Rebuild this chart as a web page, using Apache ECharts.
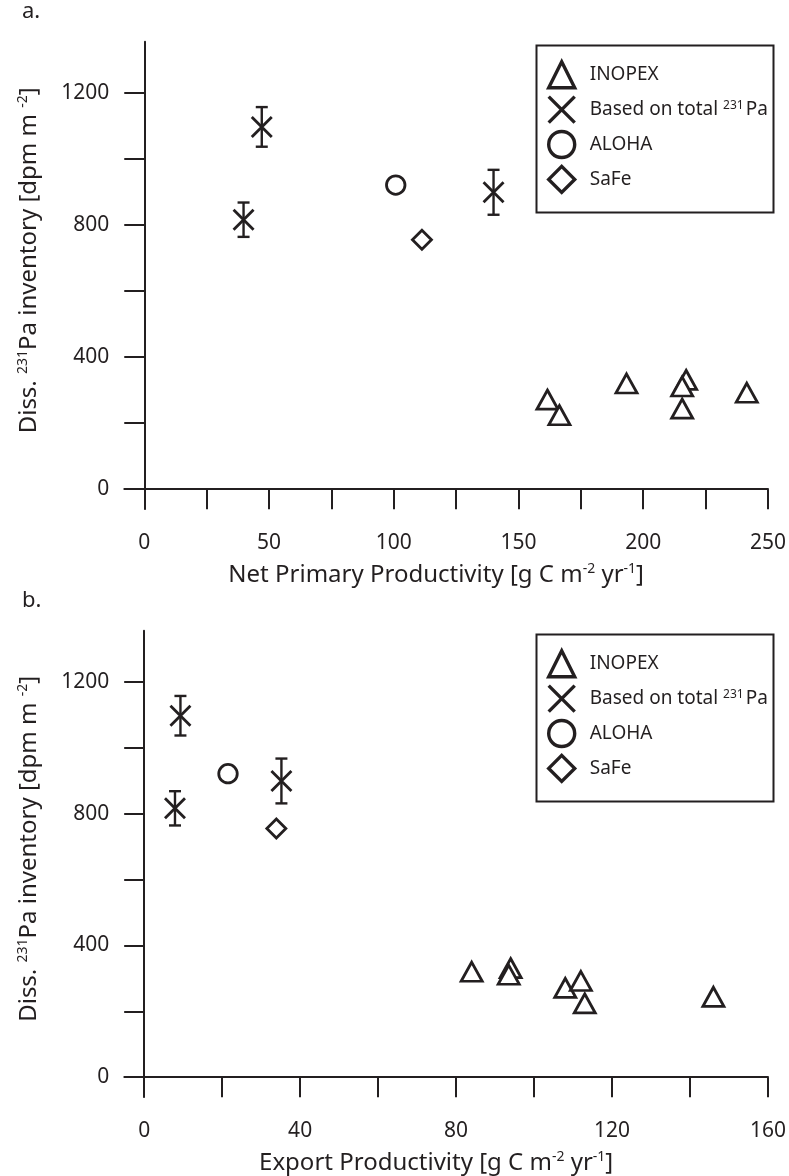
<!DOCTYPE html>
<html>
<head>
<meta charset="utf-8">
<script src="https://cdn.jsdelivr.net/npm/echarts@6/dist/echarts.min.js"></script>
<style>html,body{margin:0;padding:0;background:#fff;}#c{width:789px;height:1176px;}</style>
</head>
<body>
<div id="c"></div>
<script>
// ---- data ----
const seriesNames = ['INOPEX', 'Based on total 231Pa', 'ALOHA', 'SaFe'];
// INOPEX stations
const inopexY = [271, 224, 320, 331, 311, 244, 292];
const inopexNPP = [161.6, 166.4, 193.3, 217.2, 215.6, 215.6, 241.5];
const inopexEP = [108, 113, 84, 94, 93.5, 146, 112];
// Based on total 231Pa
const totalY = [816, 1097, 899];
const totalErr = [52, 60, 68];
const totalNPP = [39.8, 47.1, 140];
const totalEP = [7.9, 9.3, 35.2];
// ALOHA
const alohaY = [921];
const alohaNPP = [100.8];
const alohaEP = [21.5];
// SaFe
const safeY = [755];
const safeNPP = [111.3];
const safeEP = [33.9];
// ticks
const yTicks = [0, 200, 400, 600, 800, 1000, 1200];
const yLabels = [0, 400, 800, 1200];
const nppTicks = [0, 25, 50, 75, 100, 125, 150, 175, 200, 225, 250];
const nppLabels = [0, 50, 100, 150, 200, 250];
const epTicks = [0, 20, 40, 60, 80, 100, 120, 140, 160];
const epLabels = [0, 40, 80, 120, 160];

const INK = '#231f20';
const FONT = '"Noto Sans", "Open Sans", sans-serif';
const FS = 21;
const TFS = 24;
const zip = (xs, ys) => xs.map((x, i) => [x, ys[i]]);
const zip3 = (xs, ys, es) => xs.map((x, i) => [x, ys[i], es[i]]);
const X_PATH = 'path://M0,0L20,20M20,0L0,20';

const sup = { fontSize: 14, fontFamily: FONT, color: INK, padding: [0, 0, 12, 0] };
const nrm = { fontSize: TFS, fontFamily: FONT, color: INK };

function xAxisCfg(idx, min, max, ticks, labels, title) {
  return {
    type: 'value', gridIndex: idx, min: min, max: max,
    axisLine: { show: true, onZero: true, lineStyle: { color: INK, width: 2 } },
    axisTick: { show: true, length: 20, inside: false, customValues: ticks, lineStyle: { color: INK, width: 2 } },
    axisLabel: { customValues: labels, margin: 24, fontSize: FS, fontFamily: FONT, color: INK, formatter: v => String(v) },
    splitLine: { show: false },
    name: title, nameLocation: 'middle', nameGap: 53,
    nameTextStyle: { fontSize: TFS, fontFamily: FONT, color: INK, padding: [0, 20, 0, 0], rich: { n: nrm, s: sup } }
  };
}
function yAxisCfg(idx) {
  return {
    type: 'value', gridIndex: idx, min: -60, max: 1355,
    axisLine: { show: true, onZero: true, lineStyle: { color: INK, width: 2 } },
    axisTick: { show: true, length: 20, inside: false, customValues: yTicks, lineStyle: { color: INK, width: 2 } },
    axisLabel: { customValues: yLabels, margin: 15, fontSize: FS, fontFamily: FONT, color: INK, formatter: v => String(v) },
    splitLine: { show: false },
    name: '{n|Diss. }{s|231}{n|Pa inventory [dpm m }{s|-2}{n|]}',
    nameLocation: 'middle', nameRotate: 90, nameGap: 82,
    nameTextStyle: { fontSize: TFS, fontFamily: FONT, color: INK, padding: [0, 0, 0, 30], rich: { n: nrm, s: sup } }
  };
}
const markerStyle = { color: '#fff', borderColor: INK, borderWidth: 2.8, opacity: 1 };
function panelSeries(idx, inX, toX, alX, saX) {
  return [
    { name: seriesNames[0], type: 'scatter', xAxisIndex: idx, yAxisIndex: idx, symbol: 'triangle', symbolSize: [21, 19],
      itemStyle: markerStyle, data: zip(inX, inopexY), z: 3 },
    { name: seriesNames[1] + '_err', type: 'custom', xAxisIndex: idx, yAxisIndex: idx,
      data: zip3(toX, totalY, totalErr), z: 2,
      renderItem: function (params, api) {
        const x = api.value(0), y = api.value(1), e = api.value(2);
        const top = api.coord([x, y + e]);
        const bot = api.coord([x, y - e]);
        const cw = 6;
        const st = { stroke: INK, lineWidth: 2.4 };
        return { type: 'group', children: [
          { type: 'line', shape: { x1: top[0], y1: top[1], x2: bot[0], y2: bot[1] }, style: st },
          { type: 'line', shape: { x1: top[0] - cw, y1: top[1], x2: top[0] + cw, y2: top[1] }, style: st },
          { type: 'line', shape: { x1: bot[0] - cw, y1: bot[1], x2: bot[0] + cw, y2: bot[1] }, style: st }
        ] };
      } },
    { name: seriesNames[1], type: 'scatter', xAxisIndex: idx, yAxisIndex: idx, symbol: X_PATH, symbolSize: [20, 20],
      itemStyle: markerStyle, data: zip(toX, totalY), z: 3 },
    { name: seriesNames[2], type: 'scatter', xAxisIndex: idx, yAxisIndex: idx, symbol: 'circle', symbolSize: 18.5,
      itemStyle: markerStyle, data: zip(alX, alohaY), z: 3 },
    { name: seriesNames[3], type: 'scatter', xAxisIndex: idx, yAxisIndex: idx, symbol: 'diamond', symbolSize: [19, 19],
      itemStyle: markerStyle, data: zip(saX, safeY), z: 3 }
  ];
}
function legendCfg(top) {
  return {
    orient: 'vertical', left: 542, top: top, itemWidth: 26, itemHeight: 26, itemGap: 5.5,
    data: seriesNames, selectedMode: false,
    itemStyle: { borderWidth: 3.4, borderColor: INK, color: '#fff', opacity: 1 },
    formatter: function (n) {
      if (n === seriesNames[1]) return '{n|Based on total }{s|231}{n|Pa}';
      return '{n|' + n + '}';
    },
    textStyle: { padding: [0, 0, 0, 10], rich: {
      n: { fontSize: 19, fontFamily: FONT, color: INK },
      s: { fontSize: 12, fontFamily: FONT, color: INK, padding: [0, 2, 9, 0] } } }
  };
}

const chart = echarts.init(document.getElementById('c'), null, { renderer: 'canvas' });
chart.setOption({
  backgroundColor: '#fff',
  animation: false,
  grid: [
    { left: 124.3, right: 19, top: 41.7, bottom: 667 },
    { left: 124.3, right: 19, top: 630.7, bottom: 78 }
  ],
  xAxis: [
    xAxisCfg(0, -8, 250, nppTicks, nppLabels, '{n|Net Primary Productivity [g C m}{s|-2}{n| yr}{s|-1}{n|]}'),
    xAxisCfg(1, -5.1, 160, epTicks, epLabels, '{n|Export Productivity [g C m}{s|-2}{n| yr}{s|-1}{n|]}')
  ],
  yAxis: [yAxisCfg(0), yAxisCfg(1)],
  legend: [legendCfg(55), legendCfg(644)],
  graphic: [
    { type: 'rect', left: 534, top: 43, shape: { width: 237, height: 167 }, style: { fill: 'none', stroke: INK, lineWidth: 2 }, z: 10 },
    { type: 'rect', left: 534, top: 632, shape: { width: 237, height: 167 }, style: { fill: 'none', stroke: INK, lineWidth: 2 }, z: 10 },
    { type: 'text', left: 22, top: 1, style: { text: 'a.', fontSize: 22, fontFamily: FONT, fill: INK } },
    { type: 'text', left: 22, top: 590, style: { text: 'b.', fontSize: 22, fontFamily: FONT, fill: INK } }
  ],
  series: [].concat(
    panelSeries(0, inopexNPP, totalNPP, alohaNPP, safeNPP),
    panelSeries(1, inopexEP, totalEP, alohaEP, safeEP)
  )
});
</script>
</body>
</html>
